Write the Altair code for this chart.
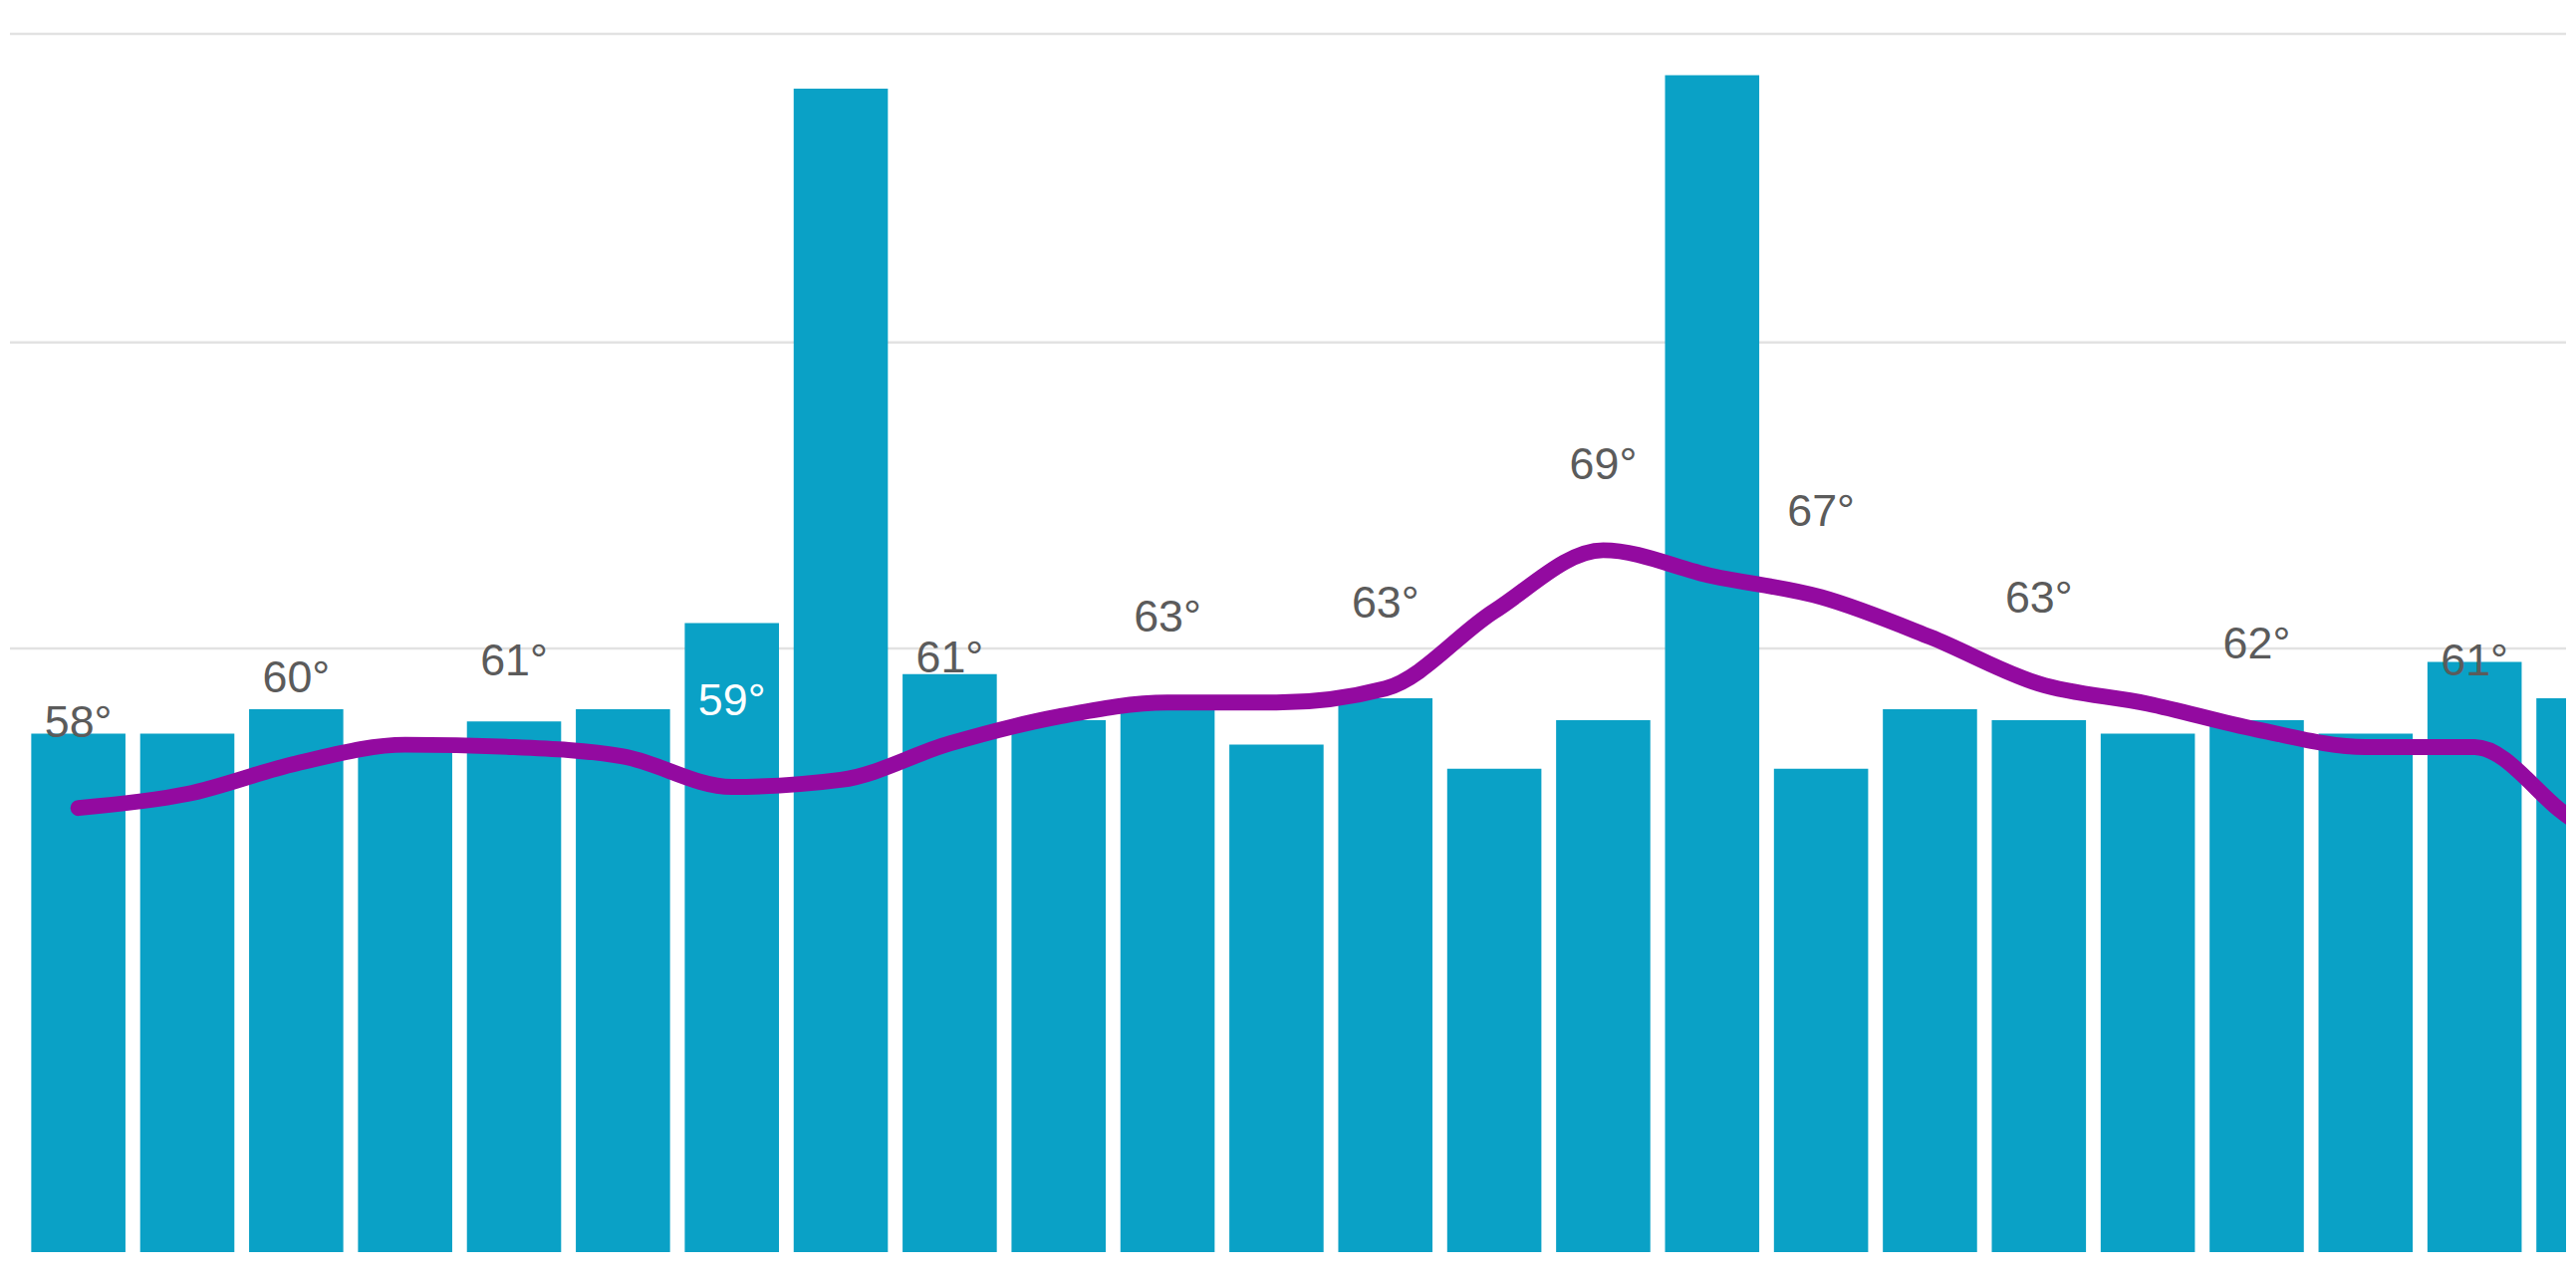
import altair as alt
import pandas as pd

# ---- data ----
bar_index = list(range(24))
bar_values = [42.7, 42.7, 44.7, 41.7, 43.7, 44.7, 51.8, 95.8, 47.6, 43.8, 44.7, 41.8,
              45.6, 39.8, 43.8, 96.9, 39.8, 44.7, 43.8, 42.7, 43.8, 42.7, 48.6, 45.6]

temp_index = list(range(25))
temps = [58.0, 58.6, 59.9, 60.7, 60.6, 60.2, 58.9, 59.2, 60.75, 61.9, 62.5, 62.5,
         63.1, 66.4, 69.0, 67.9, 67.0, 65.3, 63.3, 62.45, 61.35, 60.6, 60.6, 57.3, 56.5]

label_index = [0, 2, 4, 6, 8, 10, 12, 14, 16, 18, 20, 22]
label_text = ["58°", "60°", "61°", "59°", "61°", "63°", "63°", "69°", "67°", "63°", "62°", "61°"]

grid_values = [49.7, 74.9, 100.3]

# ---- layout ----
W, H = 2578, 1252
X_DOMAIN = [-0.628, 22.84]
BAR_DOMAIN = [0, 102.2]
TEMP_DOMAIN = [39.05, 92.01]
HALF = 0.4325
FONT_SIZE = 45
LABEL_DY = -72

bars_df = pd.DataFrame({"i": bar_index, "v": bar_values})
temps_df = pd.DataFrame({"i": temp_index, "t": temps})
labels_df = pd.DataFrame({
    "i": label_index,
    "txt": label_text,
    "t": [temps[k] for k in label_index],
    "v": [bar_values[k] for k in label_index],
})
grid_df = pd.DataFrame({"g": grid_values})

xs = alt.Scale(domain=X_DOMAIN, nice=False, zero=False)
ys_bar = alt.Scale(domain=BAR_DOMAIN, nice=False, zero=False)
ys_temp = alt.Scale(domain=TEMP_DOMAIN, nice=False, zero=False)

# pixel helpers for the label colour rule (text fully inside a bar -> white)
t_pp = H / (TEMP_DOMAIN[1] - TEMP_DOMAIN[0])
b_pp = H / (BAR_DOMAIN[1] - BAR_DOMAIN[0])
text_top = f"({H} - {t_pp}*(datum.t - {TEMP_DOMAIN[0]}) + {LABEL_DY} - {FONT_SIZE*0.72})"
bar_top = f"({H} - {b_pp}*(datum.v - {BAR_DOMAIN[0]}))"
color_expr = f"{text_top} > {bar_top} ? '#ffffff' : '#5b5b5b'"

grid = alt.Chart(grid_df).mark_rule(color="#e2e2e2", strokeWidth=2.5).encode(
    y=alt.Y("g:Q", scale=ys_bar, axis=None)
)

bars = alt.Chart(bars_df).transform_calculate(
    x0=f"datum.i - {HALF}", x1=f"datum.i + {HALF}"
).mark_bar(color="#0aa1c6", clip=True).encode(
    x=alt.X("x0:Q", scale=xs, axis=None),
    x2="x1:Q",
    y=alt.Y("v:Q", scale=ys_bar, axis=None),
    y2=alt.datum(0),
)

line = alt.Chart(temps_df).mark_line(
    color="#930aa0", strokeWidth=16, interpolate="monotone",
    strokeCap="round", strokeJoin="round", clip=True
).encode(
    x=alt.X("i:Q", scale=xs, axis=None),
    y=alt.Y("t:Q", scale=ys_temp, axis=None),
)

labels = alt.Chart(labels_df).transform_calculate(
    col=color_expr
).mark_text(
    font="Liberation Sans", fontSize=FONT_SIZE, baseline="alphabetic",
    align="center", dy=LABEL_DY
).encode(
    x=alt.X("i:Q", scale=xs, axis=None),
    y=alt.Y("t:Q", scale=ys_temp, axis=None),
    text="txt:N",
    color=alt.Color("col:N", scale=None),
)

chart = alt.layer(grid, bars, line, labels).resolve_scale(
    y="independent"
).properties(
    width=W, height=H, padding=0, background="white"
).configure_view(stroke=None)

chart.save("out.html", embed_options={"renderer": "svg", "actions": False})
